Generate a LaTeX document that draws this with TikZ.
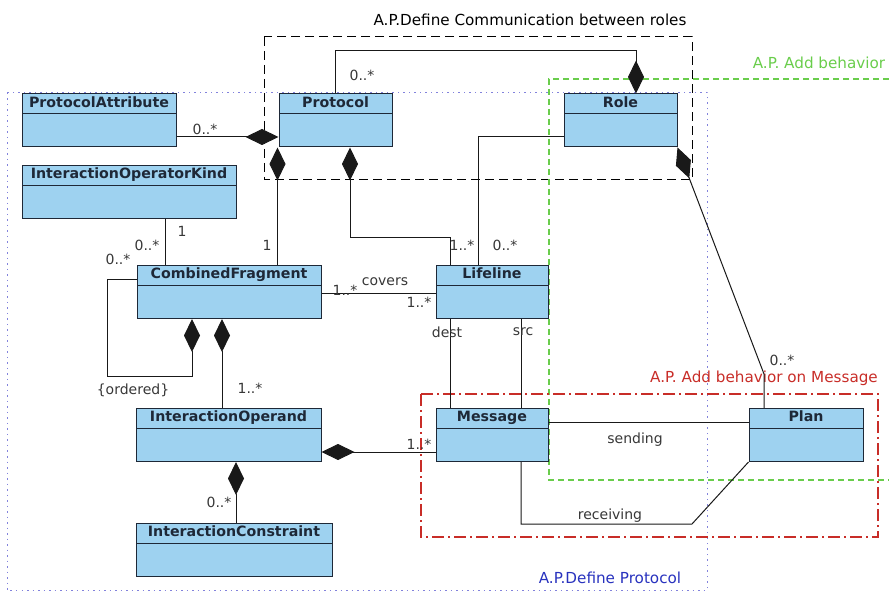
\documentclass[tikz,border=0pt]{standalone}
\usepackage{fontspec}
\setmainfont{DejaVu Sans}
\usetikzlibrary{arrows.meta}
\definecolor{clsblue}{RGB}{158,210,240}
\definecolor{clsline}{RGB}{30,40,55}
\definecolor{apgreen}{RGB}{105,205,75}
\definecolor{apred}{RGB}{200,45,40}
\definecolor{apblue}{RGB}{40,50,190}
\definecolor{apdot}{RGB}{130,130,220}
\definecolor{multgray}{RGB}{55,55,55}
\tikzset{
  cls/.style={draw=clsline, fill=clsblue, line width=1pt, minimum height=53pt,
    inner sep=0pt,
    path picture={\draw[clsline, line width=1pt]
      ([yshift=-20pt]path picture bounding box.north west) --
      ([yshift=-20pt]path picture bounding box.north east);}},
  ttl/.style={anchor=north, inner sep=0pt, yshift=-3pt, text=clsline,
    font=\fontsize{14.2}{16}\selectfont\bfseries},
  conn/.style={draw=black!90, line width=1pt},
  comp/.style={conn, {Diamond[length=33pt,width=16pt]}-},
  compend/.style={conn, -{Diamond[length=33pt,width=16pt]}},
  mult/.style={text=multgray, inner sep=0pt, font=\fontsize{14}{16}\selectfont},
  frametext/.style={inner sep=0pt, font=\fontsize{15.2}{17}\selectfont},
}
\begin{document}
\begin{tikzpicture}[x=1pt, y=-1pt]
\useasboundingbox (0,0) rectangle (889,593);

% ---- grouping frames ----
\draw[apdot, line width=1pt, dash pattern=on 1.5pt off 4pt] (7,93) rectangle (707,590);
\node[frametext, text=apblue] (lblproto) at (610,578) {A.P.Define Protocol};

\draw[black, line width=1pt, dash pattern=on 9pt off 5pt] (264,37) rectangle (692,180);
\node[frametext] (lblcomm) at (530,20) {A.P.Define Communication between roles};

\draw[apgreen, line width=1.2pt, dash pattern=on 6pt off 4pt]
  (889,79) -- (549,79) -- (549,480) -- (889,480);
\node[frametext, text=apgreen] (lblbeh) at (819,63) {A.P. Add behavior};

\draw[apred, line width=1.3pt, dash pattern=on 12pt off 4pt on 2pt off 4pt]
  (421,394) rectangle (878,537);
\node[frametext, text=apred] (lblmsg) at (764,378) {A.P. Add behavior on Message};

% ---- classes ----
\node[cls, minimum width=154pt, label={[ttl]north:ProtocolAttribute}] (pa) at (99,120.5) {};
\node[cls, minimum width=113pt, label={[ttl]north:Protocol}] (proto) at (335.5,120.5) {};
\node[cls, minimum width=113pt, label={[ttl]north:Role}] (role) at (620.5,120.5) {};
\node[cls, minimum width=214pt, label={[ttl]north:InteractionOperatorKind}] (iok) at (129,192) {};
\node[cls, minimum width=184pt, label={[ttl]north:CombinedFragment}] (cf) at (229,292) {};
\node[cls, minimum width=112pt, label={[ttl]north:Lifeline}] (life) at (492,292) {};
\node[cls, minimum width=185pt, label={[ttl]north:InteractionOperand}] (iop) at (228.5,435) {};
\node[cls, minimum width=112pt, label={[ttl]north:Message}] (msg) at (492,435) {};
\node[cls, minimum width=114pt, label={[ttl]north:Plan}] (plan) at (806,435) {};
\node[cls, minimum width=196pt, label={[ttl]north:InteractionConstraint}] (ic) at (234,549.5) {};

% ---- associations ----
% Protocol owns ProtocolAttribute
\draw[comp] ([yshift=-16.5pt]proto.west) -- ([yshift=-16.5pt]pa.east);
\node[mult] (m1) at (205,129) {0..*};

% Role owns Protocol
\draw[compend] ([xshift=-0.5pt]proto.north) |- ([xshift=15.5pt,yshift=43pt]role.north)
  -- ([xshift=15.5pt]role.north);
\node[mult] (m2) at (362,75) {0..*};

% Protocol owns CombinedFragment
\draw[comp] ([xshift=-1pt]proto.south west) -- ([xshift=-1pt]proto.south west |- cf.north);
\node[mult] (m3) at (267,245) {1};

% Protocol owns Lifeline
\draw[comp] ([xshift=14.5pt]proto.south) -- ++(0,90) -| ([xshift=-42pt]life.north);
\node[mult] (m4) at (462,245) {1..*};

% Role -- Lifeline
\draw[conn] ([yshift=-16.5pt]role.west) -| ([xshift=-14pt]life.north);
\node[mult] (m5) at (505,245) {0..*};

% Role owns Plan
\draw[comp] (role.south east) -- ([xshift=-42pt,yshift=34pt]plan.north) -- ([xshift=-42pt]plan.north);
\node[mult] (m6) at (782,360) {0..*};

% InteractionOperatorKind -- CombinedFragment
\draw[conn] ([xshift=36pt]iok.south) -- ([xshift=36pt]iok.south |- cf.north);
\node[mult] (m7) at (182,231) {1};
\node[mult] (m8) at (147,245) {0..*};

% CombinedFragment nesting
\draw[compend] ([yshift=12pt]cf.west) -- ++(-29,0)
  |- ([xshift=-37pt,yshift=-58pt]cf.south) -- ([xshift=-37pt]cf.south);
\node[mult] (m9) at (118,259) {0..*};
\node[mult] (m10) at (133,390) {\{ordered\}};

% CombinedFragment owns InteractionOperand
\draw[comp] ([xshift=-7pt]cf.south) -- ([xshift=-7pt]cf.south |- iop.north);
\node[mult] (m11) at (250,388) {1..*};

% CombinedFragment covers Lifeline
\draw[conn] ([yshift=-2pt]cf.east) -- ([yshift=-2pt]cf.east -| life.west);
\node[mult] (m12) at (345,290) {1..*};
\node[mult] (m13) at (385,282) {covers};
\node[mult] (m14) at (419,302) {1..*};

% InteractionOperand owns Message
\draw[comp] ([yshift=-17pt]iop.east) -- ([yshift=-17pt]iop.east -| msg.west);
\node[mult] (m15) at (419,444) {1..*};

% InteractionOperand owns InteractionConstraint
\draw[comp] ([xshift=7.5pt]iop.south) -- ([xshift=7.5pt]iop.south |- ic.north);
\node[mult] (m16) at (219,502) {0..*};

% Lifeline -- Message (dest / src)
\draw[conn] ([xshift=-42pt]life.south) -- ([xshift=-42pt]msg.north);
\node[mult] (m17) at (447,332) {dest};
\draw[conn] ([xshift=29pt]life.south) -- ([xshift=29pt]msg.north);
\node[mult] (m18) at (523,332) {src};

% Message -- Plan
\draw[conn] ([yshift=12pt]msg.east) -- ([yshift=12pt]plan.west);
\node[mult] (m19) at (635,440) {sending};
\draw[conn] ([xshift=29pt]msg.south) -- ([xshift=29pt,yshift=-62pt]msg.south)
  -- ++(171,0) -- (plan.south west);
\node[mult] (m20) at (610,516) {receiving};
\end{tikzpicture}
\end{document}
